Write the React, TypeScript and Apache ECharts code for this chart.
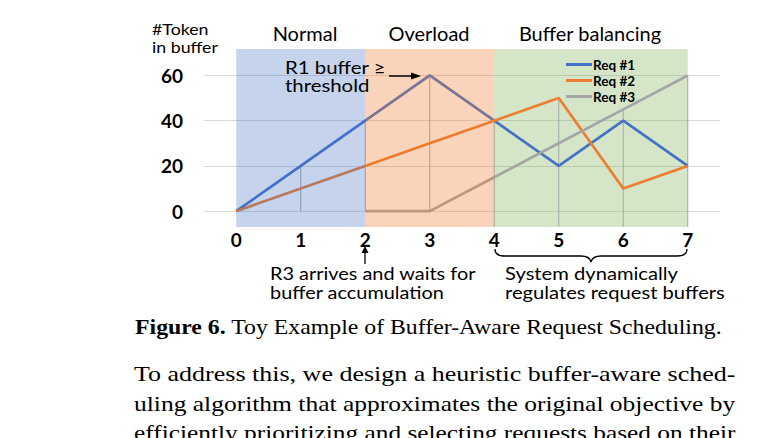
import React, { useEffect, useRef } from 'react';
import * as echarts from 'echarts';

const steps = ['0', '1', '2', '3', '4', '5', '6', '7'];
const seriesNames = ['Req #1', 'Req #2', 'Req #3'];
const req1 = [0, 20, 40, 60, 40, 20, 40, 20];
const req2 = [0, 10, 20, 30, 40, 50, 10, 20];
const req3: (number | null)[] = [null, null, 0, 0, 15, 30, 45, 60];
const yTicks = [0, 20, 40, 60];
const phaseNames = ['Normal', 'Overload', 'Buffer balancing'];
const phaseStart = [0, 2, 4];
const phaseEnd = [2, 4, 7];
const dropBase = [0, 0, 0, 0, -7, -7, -7, -7];
const captionBold = 'Figure 6.';
const captionRest = ' Toy Example of Buffer-Aware Request Scheduling.';
const paragraph = [
  'To address this, we design a heuristic buffer-aware sched-',
  'uling algorithm that approximates the original objective by',
  'efficiently prioritizing and selecting requests based on their',
];

const lineColors = ['#4472C4', '#ED7D31', '#A5A5A5'];
const phaseColors = ['rgba(68,114,196,0.31)', 'rgba(237,125,49,0.33)', 'rgba(112,173,71,0.3)'];
const phaseOverlay = [true, true, false];
const phaseLabelX = [305, 429, 590];

const SANS = 'Lato';
const SERIF = '"Liberation Serif"';

function measure(text: string, font: string): number {
  const ctx = document.createElement('canvas').getContext('2d');
  if (!ctx) return text.length * 9;
  ctx.font = font;
  return ctx.measureText(text).width;
}

export default function App() {
  const ref = useRef<HTMLDivElement>(null);
  useEffect(() => {
    if (!ref.current) return;
    const chart = echarts.init(ref.current, null, { renderer: 'svg' });

    const allSeries = [req1, req2, req3];
    const dropData = steps
      .map((_, i) => {
        const vals = allSeries.map((s) => s[i]).filter((v) => v !== null && v !== undefined) as number[];
        return [i, Math.max(...vals), dropBase[i]];
      })
      .filter((d) => d[0] > 0);

    const phaseData = (overlay: boolean) =>
      phaseStart
        .map((s, i) => [s, phaseEnd[i], i])
        .filter((d) => phaseOverlay[d[2]] === overlay);

    const phaseRender = (params: any, api: any) => {
      const s = api.value(0);
      const e = api.value(1);
      const idx = api.value(2);
      const x1 = api.coord([s, 0])[0];
      const x2 = api.coord([e, 0])[0];
      const cs = params.coordSys;
      return {
        type: 'rect',
        shape: { x: x1, y: cs.y, width: x2 - x1, height: cs.height },
        style: { fill: phaseColors[idx] },
      };
    };

    const capFontB = `bold 20px ${SERIF}`;
    const capFont = `20px ${SERIF}`;
    const capW = measure(captionBold, capFontB) + measure(captionRest, capFont);
    const capScale = 587 / capW;

    const paraY = [374, 404, 433];
    const paraEls = paragraph.map((line, i) => {
      const w = measure(line, `20.5px ${SERIF}`);
      return {
        type: 'text',
        x: 134,
        y: paraY[i],
        scaleX: 602 / w,
        z: 10,
        style: {
          text: line,
          font: `20.5px ${SERIF}`,
          fill: '#000',
          textAlign: 'left',
          textVerticalAlign: 'middle',
        },
      };
    });

    const txt = (
      text: string,
      x: number,
      y: number,
      size: number,
      align = 'left',
      lineHeight?: number,
      targetWidth?: number
    ) => {
      let scaleX = 1;
      if (targetWidth) {
        const widest = Math.max(...text.split('\n').map((l) => measure(l, `${size}px ${SANS}`)));
        scaleX = targetWidth / widest;
      }
      return {
        type: 'text',
        x,
        y,
        z: 10,
        scaleX,
        style: {
          text,
          fontFamily: SANS,
          fontSize: size,
          lineHeight: lineHeight ?? Math.round(size * 1.2),
          fill: '#000',
          textAlign: align,
          textVerticalAlign: 'middle',
        },
      };
    };

    echarts.graphic.registerShape(
      'brace',
      echarts.graphic.extendPath(
        'M0,0 C0,5 3,7 10,7 L86,7 C92,7 95,9 96,13 C97,9 100,7 106,7 L182,7 C189,7 192,5 192,0',
        {}
      )
    );

    chart.setOption({
      animation: false,
      backgroundColor: '#fff',
      grid: { left: 204, right: 48, top: 49, bottom: 211, containLabel: false },
      xAxis: {
        type: 'category',
        data: steps,
        boundaryGap: true,
        axisLine: { show: false },
        axisTick: { show: false },
        axisLabel: { fontFamily: SANS, fontSize: 19, fontWeight: 'bold', color: '#000', margin: 3 },
        splitLine: { show: false },
      },
      yAxis: {
        type: 'value',
        min: -7,
        max: 71.7,
        axisLine: { show: false },
        axisTick: { show: false, customValues: yTicks },
        axisLabel: {
          customValues: yTicks,
          fontFamily: SANS,
          fontSize: 19,
          fontWeight: 'bold',
          color: '#000',
          margin: 21,
        },
        splitLine: { show: true, lineStyle: { color: '#d9d9d9', width: 1 } },
      },
      legend: {
        data: seriesNames,
        orient: 'vertical',
        left: 561,
        top: 52,
        icon: 'rect',
        itemWidth: 26,
        itemHeight: 3,
        itemGap: 1,
        textStyle: {
          fontFamily: SANS,
          fontSize: 13.5,
          fontWeight: 'bold',
          color: '#000',
          padding: [0, 0, 0, -4],
          lineHeight: 15,
        },
      },
      series: [
        {
          type: 'custom',
          name: 'bg',
          z: 1,
          silent: true,
          renderItem: phaseRender,
          data: phaseData(false),
        },
        {
          type: 'custom',
          name: 'drop',
          z: 2,
          silent: true,
          renderItem: (params: any, api: any) => {
            const x = api.value(0);
            const p1 = api.coord([x, api.value(1)]);
            const p2 = api.coord([x, api.value(2)]);
            return {
              type: 'line',
              shape: { x1: p1[0], y1: p1[1], x2: p2[0], y2: p2[1] },
              style: { stroke: '#a6a6a6', lineWidth: 1 },
            };
          },
          data: dropData,
        },
        ...allSeries.map((d, i) => ({
          type: 'line',
          name: seriesNames[i],
          data: d,
          z: 2,
          showSymbol: false,
          symbol: 'none',
          lineStyle: { color: lineColors[i], width: 2.7 },
          itemStyle: { color: lineColors[i] },
        })),
        {
          type: 'custom',
          name: 'overlay',
          z: 3,
          silent: true,
          renderItem: phaseRender,
          data: phaseData(true),
        },
      ],
      graphic: [
        txt('#Token\nin buffer', 152, 38, 16, 'left', 18, 66),
        ...phaseNames.map((n, i) => txt(n, phaseLabelX[i], 33, 20, 'center')),
        txt('R1 buffer \u2265\nthreshold', 285, 76, 17, 'left', 18, 101),
        {
          type: 'line',
          z: 10,
          shape: { x1: 389, y1: 76, x2: 414, y2: 76 },
          style: { stroke: '#000', lineWidth: 1.5 },
        },
        {
          type: 'polygon',
          z: 10,
          shape: { points: [[411, 72.5], [421, 76], [411, 79.5]] },
          style: { fill: '#000' },
        },
        {
          type: 'line',
          z: 10,
          shape: { x1: 365, y1: 264, x2: 365, y2: 252 },
          style: { stroke: '#000', lineWidth: 1.3 },
        },
        {
          type: 'polygon',
          z: 10,
          shape: { points: [[361.5, 253], [365, 246], [368.5, 253]] },
          style: { fill: '#000' },
        },
        txt('R3 arrives and waits for\nbuffer accumulation', 270, 282, 18, 'left', 19, 206),
        {
          type: 'brace',
          z: 10,
          x: 495,
          y: 249,
          style: { stroke: '#000', fill: 'none', lineWidth: 1.3 },
        },
        txt('System dynamically\nregulates request buffers', 505, 282, 18, 'left', 19, 220),
        {
          type: 'text',
          x: 135,
          y: 327,
          z: 10,
          scaleX: capScale,
          style: {
            text: `{b|${captionBold}}${captionRest}`,
            font: capFont,
            fill: '#000',
            textAlign: 'left',
            textVerticalAlign: 'middle',
            rich: { b: { fontFamily: 'Liberation Serif', fontSize: 20, fontWeight: 'bold', fill: '#000' } },
          },
        },
        ...paraEls,
      ],
    });

    return () => chart.dispose();
  }, []);

  return (
    <div
      ref={ref}
      style={{ position: 'absolute', left: 0, top: 0, width: 768, height: 438, background: '#fff' }}
    />
  );
}
